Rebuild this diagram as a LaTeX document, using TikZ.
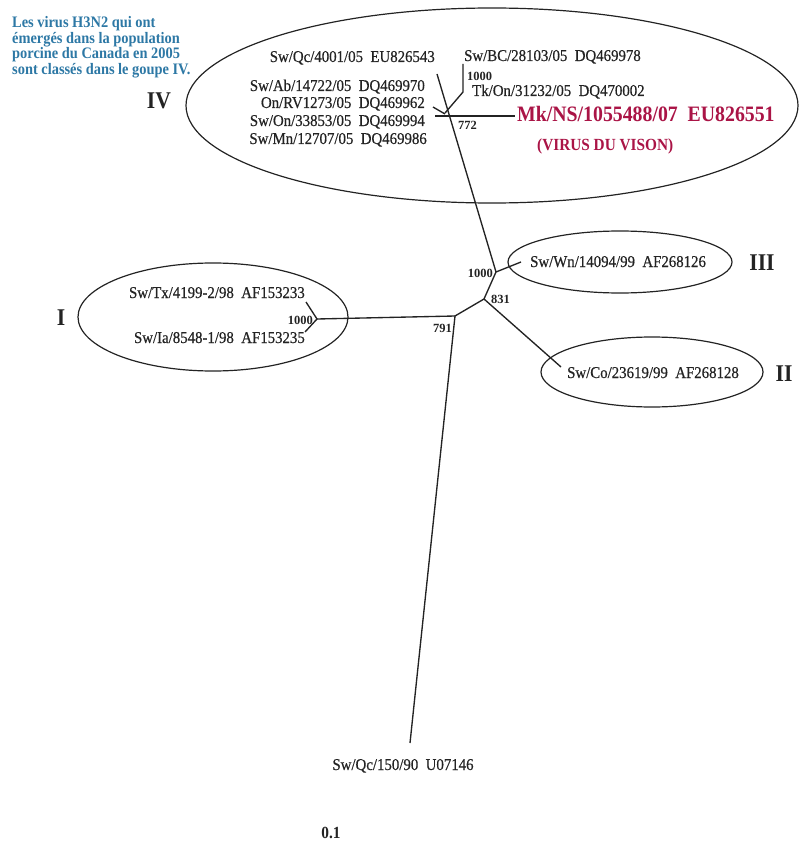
\documentclass[tikz,border=0pt]{standalone}
\usepackage{fontspec}
\setmainfont{Liberation Serif}[FakeStretch=0.9]
\newfontfamily\heavyserif{Liberation Serif}[FakeStretch=0.9, FakeBold=0.5]
\newfontfamily\wideserif{Liberation Serif}
\usetikzlibrary{positioning}
\definecolor{noteblue}{RGB}{45,120,165}
\definecolor{minkred}{RGB}{170,20,70}
\definecolor{ink}{RGB}{35,35,35}
\tikzset{
  branch/.style={draw=ink, line width=1.35pt},
  clade/.style={draw=ink, line width=1.2pt},
  lbl/.style={inner sep=0pt, text=ink, font=\heavyserif\fontsize{16.5}{18}\selectfont},
  boot/.style={inner sep=0pt, text=ink, font=\wideserif\bfseries\fontsize{12.5}{13}\selectfont},
  grp/.style={inner sep=0pt, text=ink, font=\bfseries\fontsize{24}{26}\selectfont},
  note/.style={inner sep=0pt, text=noteblue, align=left, font=\bfseries\fontsize{16}{15.8}\selectfont},
}
\begin{document}
\begin{tikzpicture}[x=1pt,y=-1pt]
\useasboundingbox (0,0) rectangle (806,842);
% clade ellipses
\draw[clade] (492,105.5) ellipse [x radius=306pt, y radius=97.5pt];
\draw[clade] (620,262) ellipse [x radius=112pt, y radius=31pt];
\draw[clade] (652,372) ellipse [x radius=111pt, y radius=35pt];
\draw[clade] (213,317) ellipse [x radius=135pt, y radius=54pt];
% tree coordinates
\coordinate (n791) at (455,316);
\coordinate (n831) at (484,299);
\coordinate (n1000) at (496,272);
\coordinate (leafWn) at (521,262);
\coordinate (leafCo) at (561,367);
\coordinate (leafQc150) at (410,743);
\coordinate (nI) at (317,319);
\coordinate (leafTx) at (306,302);
\coordinate (leafIa) at (305,332);
\coordinate (leafQc4001) at (437,74);
\coordinate (bcTop) at (463,64);
\coordinate (bcBend) at (463,92);
\coordinate (bcBase) at (445,113);
\coordinate (tickA) at (433,107);
\coordinate (tickB) at (445,114);
\coordinate (mkL) at (435,116);
\coordinate (mkR) at (515,116);
% branches
\draw[branch] (leafQc150) -- (n791) -- (n831) -- (n1000) -- (leafWn);
\draw[branch] (n831) -- (leafCo);
\draw[branch] (n791) -- (nI);
\draw[branch] (leafTx) -- (nI) -- (leafIa);
\draw[branch] (n1000) -- (leafQc4001);
\draw[branch] (bcTop) -- (bcBend) -- (bcBase);
\draw[branch] (tickA) -- (tickB);
\draw[branch] (mkL) -- (mkR);
% note
\node[note, anchor=north west] (note) at (12,16) {Les virus H3N2 qui ont\\émergés dans la population\\porcine du Canada en 2005\\sont classés dans le goupe IV.};
% group labels
\node[grp] (gIV) at (159,101) {IV};
\node[grp] (gIII) at (762,263) {III};
\node[grp] (gII) at (784,374) {II};
\node[grp] (gI) at (61,318) {I};
% group IV labels
\node[lbl, anchor=base east] (qc4001) at (435,62) {Sw/Qc/4001/05\ \ EU826543};
\node[lbl, anchor=base east] (ab) at (425,91) {Sw/Ab/14722/05\ \ DQ469970};
\node[lbl, anchor=base east] (onrv) at (425,108) {On/RV1273/05\ \ DQ469962};
\node[lbl, anchor=base east] (on) at (425,126) {Sw/On/33853/05\ \ DQ469994};
\node[lbl, anchor=base east] (mn) at (427,144) {Sw/Mn/12707/05\ \ DQ469986};
\node[lbl, anchor=base west] (bc) at (464,61) {Sw/BC/28103/05\ \ DQ469978};
\node[lbl, anchor=base west] (tk) at (472,96) {Tk/On/31232/05\ \ DQ470002};
\node[lbl, anchor=base west, text=minkred, font=\bfseries\fontsize{22}{24}\selectfont] (mk) at (517,122) {Mk/NS/1055488/07\ \ EU826551};
\node[lbl, anchor=base west, text=minkred, font=\bfseries\fontsize{17}{19}\selectfont] (vison) at (537,151) {(VIRUS DU VISON)};
% other leaves
\node[lbl, anchor=base west] (wn) at (530,267) {Sw/Wn/14094/99\ \ AF268126};
\node[lbl, anchor=base west] (co) at (567,378) {Sw/Co/23619/99\ \ AF268128};
\node[lbl, anchor=base east] (tx) at (305,298) {Sw/Tx/4199-2/98\ \ AF153233};
\node[lbl, anchor=base east] (ia) at (305,343) {Sw/Ia/8548-1/98\ \ AF153235};
\node[lbl, anchor=base] (qc150) at (403,770) {Sw/Qc/150/90\ \ U07146};
\node[lbl, anchor=base, font=\bfseries\fontsize{17}{19}\selectfont] (scale) at (331,838) {0.1};
% bootstrap values
\node[boot, anchor=base west] (b1000IV) at (467,81) {1000};
\node[boot, anchor=base west] (b772) at (458,130) {772};
\node[boot, anchor=base east] (b1000III) at (493,277) {1000};
\node[boot, anchor=base west] (b831) at (491,303) {831};
\node[boot, anchor=base east] (b791) at (452,332) {791};
\node[boot, anchor=base east] (b1000I) at (313,324) {1000};
\end{tikzpicture}
\end{document}
